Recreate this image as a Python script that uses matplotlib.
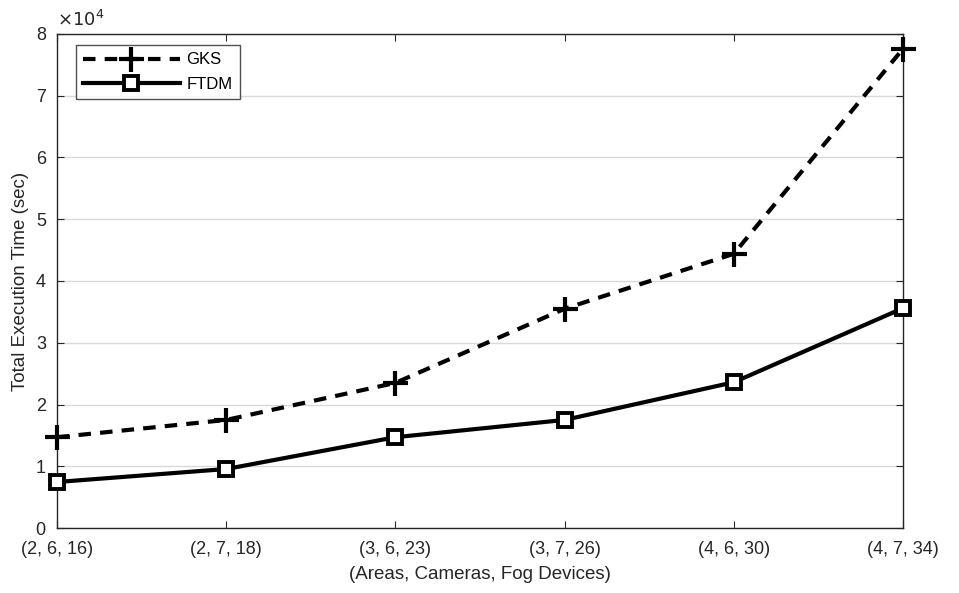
import matplotlib
matplotlib.use("Agg")
import matplotlib.pyplot as plt

categories = ["(2, 6, 16)", "(2, 7, 18)", "(3, 6, 23)", "(3, 7, 26)", "(4, 6, 30)", "(4, 7, 34)"]
gks = [14700, 17500, 23500, 35500, 44400, 77600]
ftdm = [7450, 9550, 14700, 17500, 23600, 35600]

plt.rcParams['font.family'] = ['Liberation Sans', 'DejaVu Sans']
fig = plt.figure(figsize=(9.59, 5.93), dpi=100)
ax = fig.add_axes([0.0594, 0.1096, 0.8822, 0.8331])

x = list(range(len(categories)))
scale = 1e4
ax.plot(x, [v / scale for v in gks], color='black', linestyle=(0, (3, 2.2)), linewidth=3,
        marker='+', markersize=18, markeredgewidth=3, label='GKS', clip_on=False, zorder=3)
ax.plot(x, [v / scale for v in ftdm], color='black', linestyle='-', linewidth=3,
        marker='s', markersize=10, markeredgewidth=2.8, markerfacecolor='white',
        label='FTDM', clip_on=False, zorder=3)

ax.set_xlim(0, len(categories) - 1)
ax.set_ylim(0, 8)
ax.set_xticks(x)
ax.set_xticklabels(categories)
ax.set_yticks(range(0, 9))
ax.grid(axis='y', color='#d9d9d9', linewidth=1)
ax.set_axisbelow(True)
tc = '#262626'
for s in ax.spines.values():
    s.set_color(tc)
    s.set_linewidth(1)
ax.tick_params(direction='in', top=True, right=True, length=5, colors=tc,
               labelsize=13, labelcolor=tc)
ax.tick_params(axis='x', pad=9)
ax.tick_params(axis='y', pad=8)
ax.set_xlabel("(Areas, Cameras, Fog Devices)", fontsize=13.5, color=tc, labelpad=6)
ax.set_ylabel("Total Execution Time (sec)", fontsize=13.5, color=tc, labelpad=5)
ax.text(0.0, 1.008, r"$\times10^{4}$", transform=ax.transAxes, fontsize=13, color=tc,
        ha='left', va='bottom')

leg = ax.legend(loc='upper left', bbox_to_anchor=(0.022, 0.978), fontsize=12,
                frameon=True, fancybox=False, edgecolor=tc, handlelength=5.8,
                borderpad=0.45, labelspacing=0.55, handletextpad=0.4, borderaxespad=0)
leg.get_frame().set_linewidth(1)

fig.savefig("out.png", dpi=100)
